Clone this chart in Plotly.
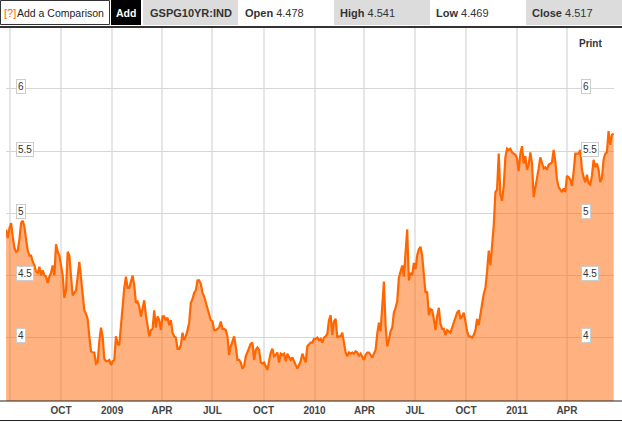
import pandas as pd
import plotly.graph_objects as go

# ---------------- data ----------------
start_date = "2008-06-24"
step = "3D"
yields = [
 4.87,4.80,4.88,4.92,4.81,4.72,4.69,4.70,4.79,4.92,4.94,4.89,4.79,4.70,4.66,4.66,4.61,4.58,4.53,4.52,
 4.57,4.50,4.54,4.50,4.49,4.44,4.49,4.52,4.58,4.50,4.75,4.69,4.66,4.57,4.50,4.32,4.38,4.69,4.66,4.49,
 4.34,4.36,4.38,4.49,4.61,4.48,4.32,4.22,4.19,4.15,4.01,3.89,3.88,3.88,3.79,3.80,3.97,4.08,4.01,3.83,
 3.81,3.81,3.82,3.78,3.81,3.82,4.01,3.95,3.94,4.12,4.28,4.40,4.49,4.40,4.40,4.46,4.50,4.42,4.28,4.29,
 4.25,4.17,4.25,4.30,4.18,4.09,4.01,4.06,4.07,4.22,4.08,4.17,4.14,4.06,4.17,4.17,4.14,4.16,4.10,4.14,
 4.04,4.01,4.00,3.91,3.91,3.94,4.04,3.98,4.01,4.06,4.12,4.28,4.31,4.36,4.38,4.46,4.46,4.43,4.36,4.33,
 4.28,4.25,4.20,4.14,4.13,4.06,4.06,4.07,4.08,4.13,4.07,4.07,4.06,4.01,3.86,3.93,3.97,4.01,3.93,3.82,
 3.82,3.80,3.75,3.77,3.85,3.88,3.92,3.95,3.96,3.82,3.90,3.92,3.90,3.80,3.79,3.80,3.77,3.74,3.81,3.88,
 3.91,3.85,3.86,3.88,3.80,3.87,3.86,3.87,3.81,3.87,3.84,3.82,3.84,3.81,3.77,3.75,3.78,3.81,3.87,3.84,
 3.80,3.93,3.95,3.96,3.96,3.99,3.99,4.00,3.98,3.99,3.96,4.00,4.01,4.03,4.14,4.18,4.02,4.13,4.15,4.00,
 4.01,4.01,4.04,3.95,3.88,3.85,3.88,3.87,3.88,3.87,3.89,3.88,3.85,3.87,3.84,3.82,3.86,3.88,3.88,3.86,
 3.84,3.87,3.90,4.03,4.12,4.05,4.30,4.45,4.10,3.93,3.98,4.05,4.08,4.20,4.24,4.29,4.48,4.54,4.58,4.49,
 4.70,4.87,4.46,4.52,4.50,4.60,4.55,4.66,4.71,4.73,4.66,4.48,4.36,4.37,4.18,4.23,4.22,4.15,4.06,4.17,
 4.24,4.11,4.07,4.07,4.02,4.06,4.05,4.04,4.08,4.12,4.17,4.20,4.22,4.15,4.17,4.20,4.13,4.05,4.01,4.01,
 4.00,4.02,4.06,4.15,4.10,4.20,4.27,4.35,4.40,4.53,4.70,4.58,4.72,4.90,5.17,5.19,5.48,5.15,5.10,5.22,
 5.45,5.52,5.51,5.52,5.49,5.48,5.47,5.44,5.34,5.48,5.54,5.40,5.46,5.35,5.39,5.49,5.40,5.13,5.20,5.28,
 5.36,5.45,5.40,5.36,5.37,5.35,5.39,5.40,5.41,5.51,5.42,5.27,5.21,5.19,5.17,5.20,5.17,5.30,5.29,5.27,
 5.22,5.33,5.48,5.48,5.48,5.51,5.35,5.29,5.25,5.31,5.24,5.23,5.30,5.43,5.37,5.40,5.35,5.25,5.28,5.43,
 5.48,5.49,5.66,5.55,5.63,5.64,
]
dates = pd.date_range(start_date, periods=len(yields), freq=step)

x_tick_dates = ["2008-07-01", "2008-10-01", "2009-01-01", "2009-04-01", "2009-07-01", "2009-10-01",
                "2010-01-01", "2010-04-01", "2010-07-01", "2010-10-01", "2011-01-01", "2011-04-01"]
x_tick_labels = ["", "OCT", "2009", "APR", "JUL", "OCT", "2010", "APR", "JUL", "OCT", "2011", "APR"]
y_ticks = [4, 4.5, 5, 5.5, 6]
y_tick_labels = ["4", "4.5", "5", "5.5", "6"]

ticker = "GSPG10YR:IND"
quote_names = ["Open", "High", "Low", "Close"]
quote_values = ["4.478", "4.541", "4.469", "4.517"]

# ---------------- figure ----------------
W, H = 622, 422
def px(x): return x / W
def py(y): return 1 - y / H

fig = go.Figure()
fig.add_trace(go.Scatter(
    x=dates, y=yields, mode="lines",
    line=dict(color="#ff6600", width=2.2),
    fill="tozeroy", fillcolor="rgba(255,102,0,0.5)",
    hoverinfo="skip", showlegend=False,
))

shapes = []
annos = []

# header boxes
shapes.append(dict(type="rect", xref="paper", yref="paper", x0=px(0.5), x1=px(109.5), y0=py(24.5), y1=py(0.5),
                   line=dict(color="#333333", width=1), fillcolor="white"))
shapes.append(dict(type="rect", xref="paper", yref="paper", x0=px(111), x1=px(141), y0=py(25), y1=py(0),
                   line=dict(width=0), fillcolor="black"))
for (a, b) in [(143, 238), (334, 430), (526, 622)]:
    shapes.append(dict(type="rect", xref="paper", yref="paper", x0=px(a), x1=px(b), y0=py(25), y1=py(0),
                       line=dict(width=0), fillcolor="#dcdcdc"))
# separator lines
shapes.append(dict(type="line", xref="paper", yref="paper", x0=0, x1=1, y0=py(27), y1=py(27),
                   line=dict(color="#333333", width=2)))
shapes.append(dict(type="line", xref="paper", yref="paper", x0=0, x1=1, y0=py(401), y1=py(401),
                   line=dict(color="#222222", width=1)))
shapes.append(dict(type="line", xref="paper", yref="paper", x0=0, x1=1, y0=py(420.5), y1=py(420.5),
                   line=dict(color="#222222", width=1)))

hdr_y = py(12.5)
annos.append(dict(text="[?]", xref="paper", yref="paper", x=px(2), y=hdr_y, xanchor="left", yanchor="middle",
                  showarrow=False, font=dict(family="Arial", size=11, color="#ff6600")))
annos.append(dict(text="Add a Comparison", xref="paper", yref="paper", x=px(15), y=hdr_y, xanchor="left",
                  yanchor="middle", showarrow=False, font=dict(family="Arial", size=10.5, color="#222222")))
annos.append(dict(text="<b>Add</b>", xref="paper", yref="paper", x=px(126), y=hdr_y, xanchor="center",
                  yanchor="middle", showarrow=False, font=dict(family="Arial", size=10.5, color="white")))
annos.append(dict(text="<b>" + ticker + "</b>", xref="paper", yref="paper", x=px(190.5), y=hdr_y,
                  xanchor="center", yanchor="middle", showarrow=False,
                  font=dict(family="Arial", size=11, color="#333333")))
for name, val, x0 in zip(quote_names, quote_values, [243, 338, 434, 530]):
    annos.append(dict(text="<b>" + name + "</b> " + val, xref="paper", yref="paper", x=px(x0), y=hdr_y,
                      xanchor="left", yanchor="middle", showarrow=False,
                      font=dict(family="Arial", size=11, color="#333333")))

annos.append(dict(text="<b>Print</b>", xref="paper", yref="paper", x=px(590), y=py(44), xanchor="center",
                  yanchor="middle", showarrow=False, font=dict(family="Arial", size=10, color="#333333")))

# y labels on both sides
for v, t in zip(y_ticks, y_tick_labels):
    for xl in (16, 581):
        annos.append(dict(text=t, xref="paper", yref="y", x=px(xl), y=v, yshift=2, xanchor="left",
                          yanchor="middle", showarrow=False, bgcolor="white", bordercolor="#cccccc",
                          borderwidth=1, borderpad=1,
                          font=dict(family="Arial", size=10, color="#333333")))

fig.update_layout(
    width=W, height=H, margin=dict(l=0, r=0, t=0, b=0),
    paper_bgcolor="white", plot_bgcolor="white",
    shapes=shapes, annotations=annos,
    xaxis=dict(domain=[px(6), px(614)], range=["2008-06-23 19:00", "2011-06-24 19:00"],
               tickmode="array", tickvals=x_tick_dates, ticktext=x_tick_labels,
               showgrid=True, gridcolor="#e6e6e6", gridwidth=2, zeroline=False,
               showline=False, ticks="", ticklabelstandoff=2,
               tickfont=dict(family="Arial", size=10, color="#444444", weight="bold")),
    yaxis=dict(domain=[1 - 401 / H, 1 - 28 / H], range=[3.49, 6.49],
               tickmode="array", tickvals=y_ticks, showticklabels=False,
               showgrid=True, gridcolor="#d6d6d6", gridwidth=1, zeroline=False, showline=False),
)

fig.write_html("out.html", config={"displayModeBar": False},
               post_script="document.body.style.margin='0';document.body.style.overflow='hidden';")
